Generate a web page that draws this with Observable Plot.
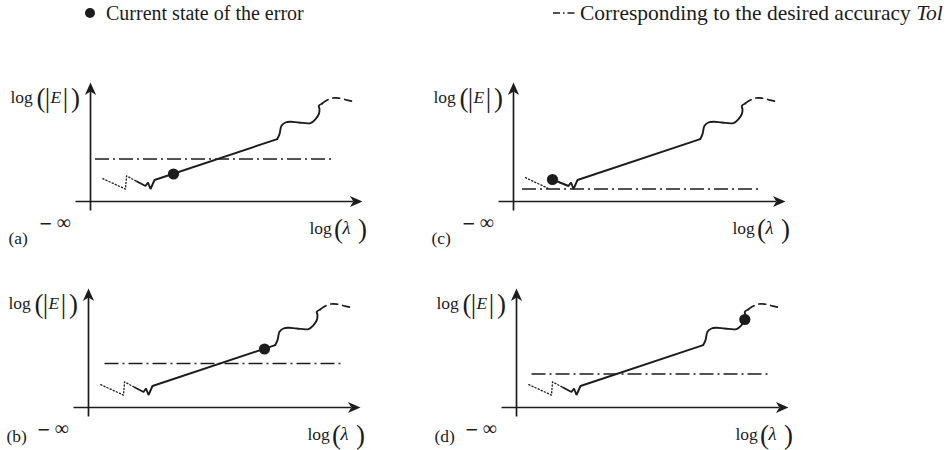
<!DOCTYPE html>
<html>
<head>
<meta charset="utf-8">
<script src="https://cdn.jsdelivr.net/npm/d3@7"></script>
<script src="https://cdn.jsdelivr.net/npm/@observablehq/plot@0.6"></script>
<style>
  body { margin: 0; background: #fff; }
  #fig { position: relative; width: 947px; height: 450px; overflow: hidden;
         font-family: "Liberation Serif", "Times New Roman", serif; color: #1c1c1c; }
  .item { position: absolute; top: 0; height: 26px; display: flex; align-items: center;
          white-space: nowrap; }
  .panel { position: absolute; }
</style>
</head>
<body>
<div id="fig"></div>
<script>
// Four states of the error estimate against the tolerance Tol
const panelNames = ["(a)", "(b)", "(c)", "(d)"];
const tolLevel = [42.5, 44, 12.4, 33.4];
const tolStart = [5, 16.5, 9, 15.5];
const tolEnd = [243, 255, 245, 254];
const currentX = [83, 176, 39, 228.3];
const currentY = [27.5, 58.5, 22, 88];

// Error curve in axis units: log λ to the right, log |E| upward
const hiddenX = [12.3, 35, 36, 46.5];
const hiddenY = [22.8, 12.4, 25.6, 20];
const zigX = [46.5, 55, 57.5, 60, 64];
const zigY = [20, 15.5, 19, 12.5, 21.5];
// in (c) the estimate sits before the break, so only the first dotted stroke remains
const earlyHiddenX = [12, 34.5];
const earlyHiddenY = [23.8, 13.2];
const earlyZigX = [39, 55, 57.5, 60, 64];
const earlyZigY = [22, 15.5, 19, 12.5, 21.5];
const trendX = [64, 186.7];
const trendY = [21.5, 62.4];
const wiggleX = [186.7, 189, 191, 195, 200, 208.3, 220, 225, 228.3, 229, 228.3, 231.7];
const wiggleY = [62.4, 67.4, 75.7, 79, 79.7, 79, 78.4, 82.4, 87.4, 92.4, 95.7, 98];
const tailX = [231.7, 234.3, 241.7, 248.3, 256.7, 262.3];
const tailY = [98, 100, 103.4, 103.4, 101.4, 100];

const ink = "#1c1c1c";
const serif = "Liberation Serif, Times New Roman, serif";
const pts = (xs, ys) => xs.map((x, i) => ({x, y: ys[i]}));

// stealth-style filled arrowheads, tip at the symbol origin
const headRight = {draw(ctx, size) {
  const r = Math.sqrt(size / Math.PI), L = 2.25 * r;
  ctx.moveTo(0, 0); ctx.lineTo(-L, -r); ctx.lineTo(-0.72 * L, 0); ctx.lineTo(-L, r); ctx.closePath();
}};
const headUp = {draw(ctx, size) {
  const r = Math.sqrt(size / Math.PI), L = 2.25 * r;
  ctx.moveTo(0, 0); ctx.lineTo(-r, L); ctx.lineTo(0, 0.72 * L); ctx.lineTo(r, L); ctx.closePath();
}};

function label(t, x, y, size, extra = {}) {
  return Plot.text([{x, y, t}], {x: "x", y: "y", text: "t", textAnchor: "start", lineAnchor: "middle",
    fontSize: size, fontFamily: serif, fill: ink, ...extra});
}

// Legend above the panels
const fig = document.getElementById("fig");
fig.insertAdjacentHTML("beforeend",
  `<div class="item" style="left:85px;font-size:20px"><svg width="10" height="10" style="margin-right:11px"><circle cx="5" cy="5" r="5" fill="${ink}"/></svg>Current state of the error</div>
   <div class="item" style="left:553px;font-size:21.5px"><svg width="23" height="12" style="margin-right:4px"><line x1="0" x2="23" y1="6" y2="6" stroke="${ink}" stroke-width="1.5" stroke-dasharray="7,3,1.5,3"/></svg>Corresponding to the desired accuracy&nbsp;<i>Tol</i></div>`);

const origins = [{left: 90, top: 200.5}, {left: 88, top: 406.5}, {left: 513, top: 200.5}, {left: 516, top: 406.5}];

panelNames.forEach((name, i) => {
  const early = i === 2;
  const hidden = early ? pts(earlyHiddenX, earlyHiddenY) : pts(hiddenX, hiddenY);
  const zig = early ? pts(earlyZigX, earlyZigY) : pts(zigX, zigY);
  const solid = zig.concat(pts(trendX, trendY).slice(1));
  const bottomRow = i % 2 === 1;

  const chart = Plot.plot({
    width: 440, height: 174,
    margin: 0,
    x: {domain: [-90, 350], axis: null},
    y: {domain: [-47, 127], axis: null},
    style: {background: "transparent", overflow: "visible"},
    marks: [
      // axes with arrowheads
      Plot.ruleY([0], {x1: -14.5, x2: 263, stroke: ink, strokeWidth: 1.7}),
      Plot.ruleX([0], {y1: -9.5, y2: 110, stroke: ink, strokeWidth: 1.7}),
      Plot.dot([{x: 272, y: 0}], {x: "x", y: "y", symbol: headRight, r: 5.6, fill: ink, stroke: "none"}),
      Plot.dot([{x: 0, y: 119}], {x: "x", y: "y", symbol: headUp, r: 5.6, fill: ink, stroke: "none"}),
      // tolerance
      Plot.ruleY([tolLevel[i]], {x1: tolStart[i], x2: tolEnd[i], stroke: ink, strokeWidth: 1.5,
        strokeDasharray: "14,4,2,4"}),
      // error curve
      Plot.line(hidden, {x: "x", y: "y", stroke: ink, strokeWidth: 1.3, strokeDasharray: "1.2,2.2"}),
      Plot.line(solid, {x: "x", y: "y", stroke: ink, strokeWidth: 1.9, strokeLinejoin: "miter"}),
      Plot.line(pts(wiggleX, wiggleY), {x: "x", y: "y", stroke: ink, strokeWidth: 1.9, curve: "catmull-rom"}),
      Plot.line(pts(tailX, tailY), {x: "x", y: "y", stroke: ink, strokeWidth: 1.7, curve: "catmull-rom",
        strokeDasharray: "7,5"}),
      // current error estimate
      Plot.dot([{x: currentX[i], y: currentY[i]}], {x: "x", y: "y", r: 5.6, fill: ink, stroke: "none"}),
      // axis labels
      label("log", -80, 104, 17.5),
      label("(", -54, 103, 27),
      label("|", -45.7, 103, 27),
      label("E", -40, 104, 17.5, {fontStyle: "italic"}),
      label("|", -27.7, 103, 27),
      label(")", -19.5, 103, 27),
      label("log", 219, -27, 17.5),
      label("(", 243.5, -28, 27),
      label("λ", 252, -27, 18.5, {fontStyle: "italic"}),
      label(")", 267.5, -28, 27),
      label("−", -51, -22, 22, {fontWeight: "bold"}),
      label("∞", -34, -21, 20),
      label(name, -82, bottomRow ? -29 : -37, 17.5)
    ]
  });
  const holder = document.createElement("div");
  holder.className = "panel";
  holder.style.left = (origins[i].left - 90) + "px";
  holder.style.top = (origins[i].top - 127) + "px";
  holder.appendChild(chart);
  fig.appendChild(holder);
});
</script>
</body>
</html>
